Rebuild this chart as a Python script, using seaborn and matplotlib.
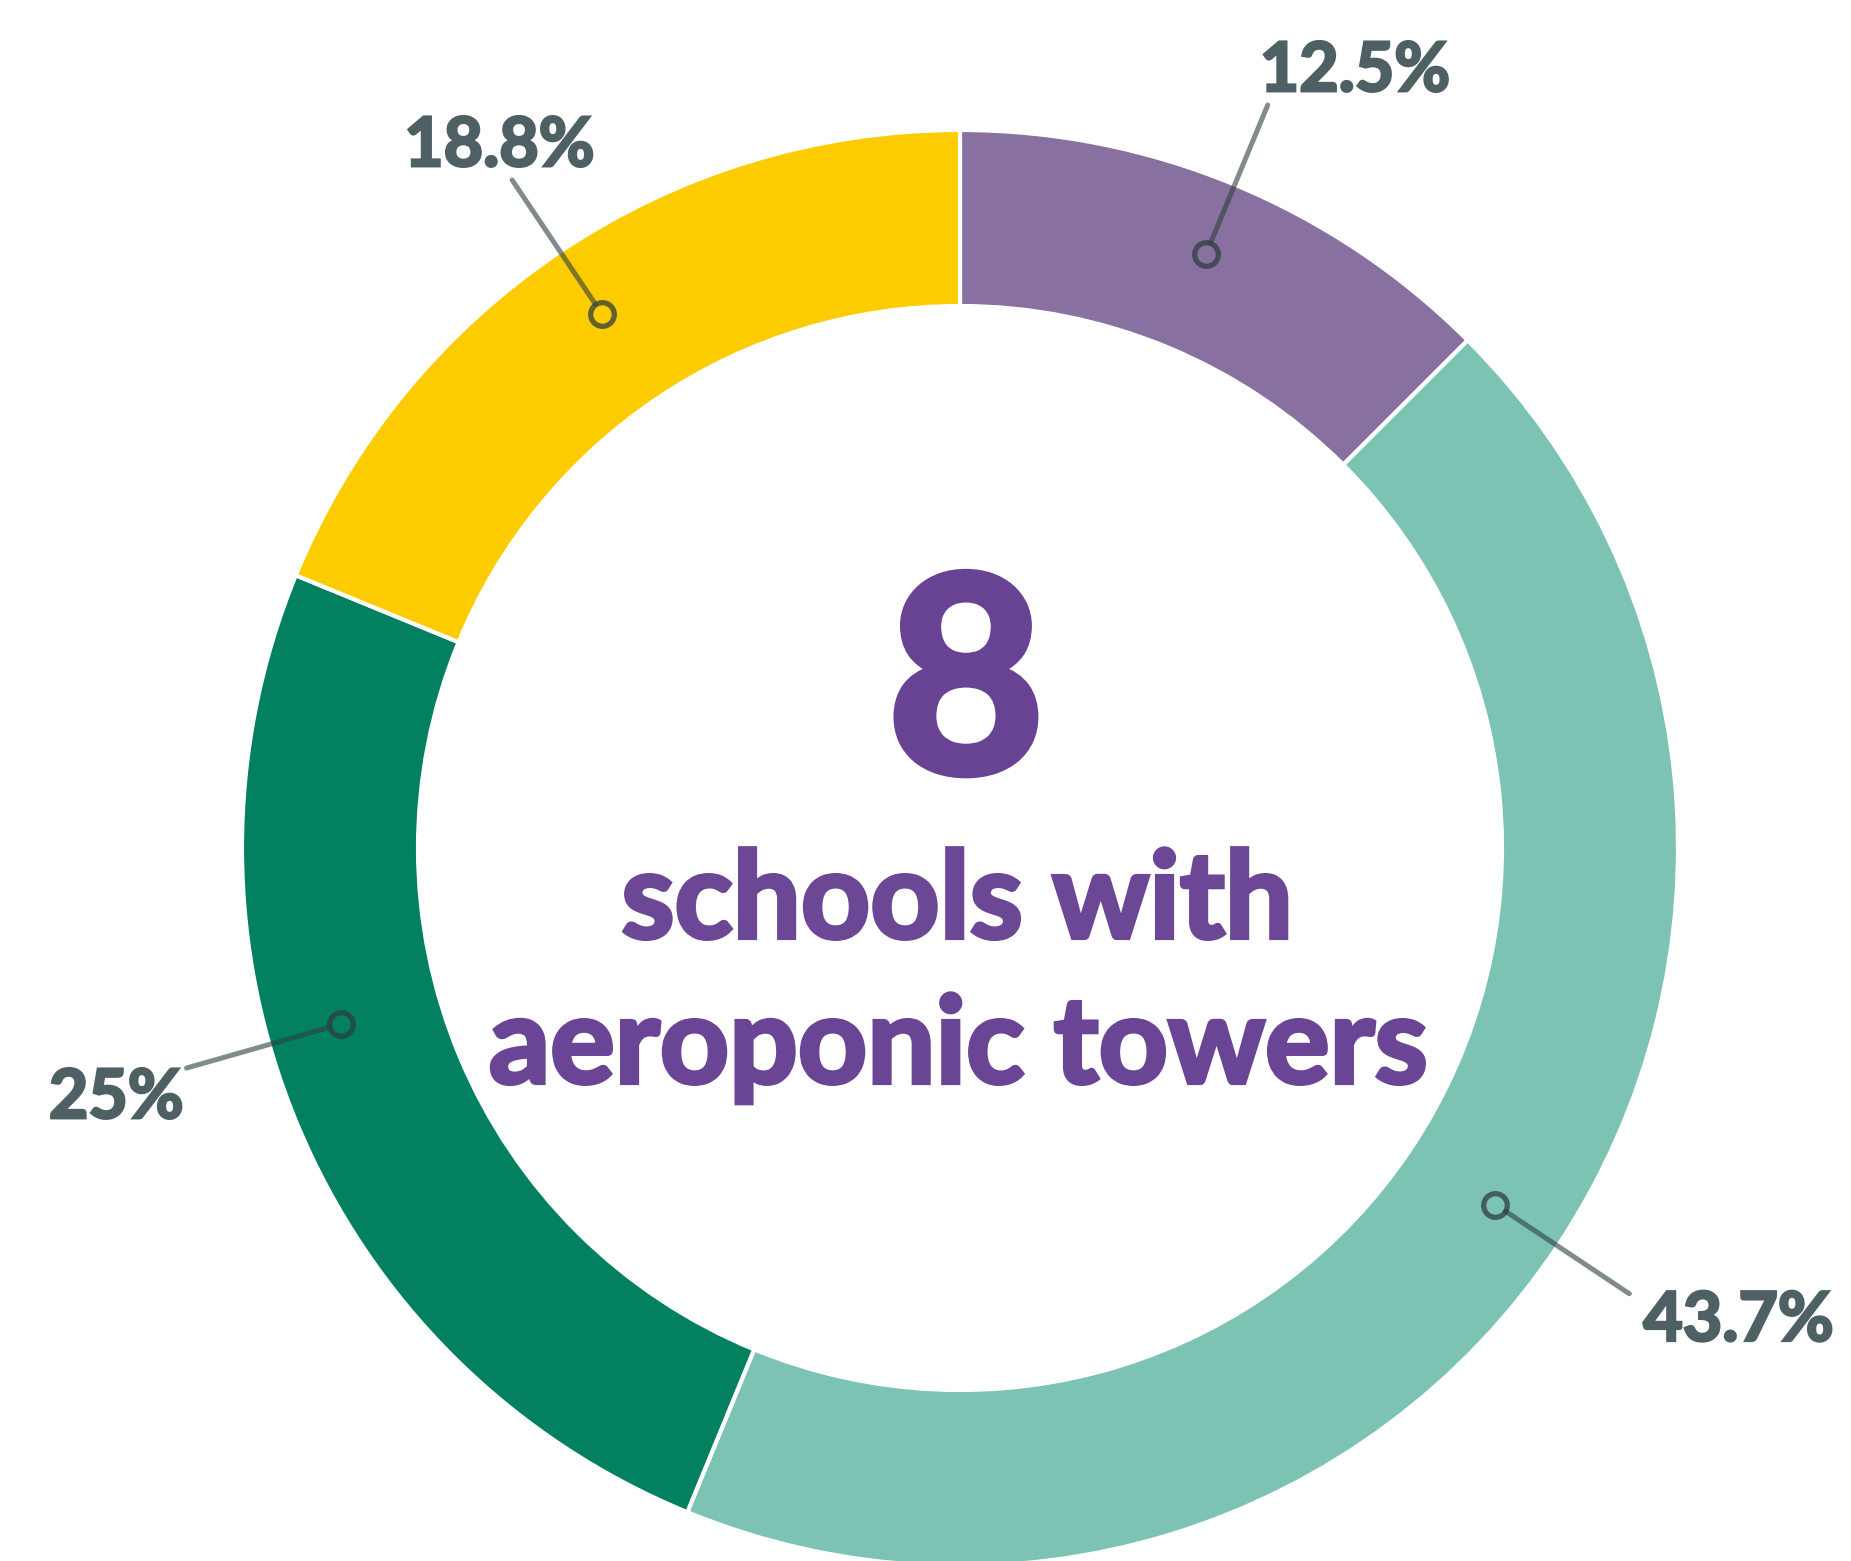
import numpy as np
import matplotlib
matplotlib.use("Agg")
import matplotlib.pyplot as plt
import matplotlib.patheffects as pe
import seaborn as sns

# Share of the 8 schools, clockwise from 12 o'clock
shares = [12.5, 43.7, 25.0, 18.8]
share_labels = ["12.5%", "43.7%", "25%", "18.8%"]
segment_colors = ["#8870A0", "#7DC3B3", "#02805F", "#FCCC00"]

center_value = "8"
center_lines = ["schools with", "aeroponic towers"]

sns.set_theme(style="white")
plt.rcParams["font.family"] = ["Lato", "DejaVu Sans"]

W, H = 1851, 1561
fig = plt.figure(figsize=(W / 100, H / 100), dpi=100)
ax = fig.add_axes([0, 0, 1, 1])

cx, cy = 960, 713
R = 718
ring = 176

ax.pie(shares, colors=segment_colors, startangle=90, counterclock=False,
       radius=R, center=(cx, cy),
       wedgeprops=dict(width=ring, edgecolor="white", linewidth=3))


def heavy(color, w):
    # thicken the glyphs a bit, Lato only ships up to bold here
    return [pe.withStroke(linewidth=w, foreground=color, joinstyle="miter",
                          capstyle="butt")]


# leader lines + labels
label_color = "#4E6064"
line_color = "#2E3E3E"
angle_nudge = [0, 0, -6.8, 0]
text_offsets = [(-8, 14, "left"), (14, -47, "left"), (-3, -50, "right"), (-13, 14, "center")]

cum = np.cumsum([0] + shares[:-1])
for i, (s, lab) in enumerate(zip(shares, share_labels)):
    mid_cw = (cum[i] + s / 2) / 100 * 360
    ang = np.deg2rad(90 - mid_cw + angle_nudge[i])
    r0, r1 = 0.896 * R, 1.12 * R
    x0, y0 = cx + r0 * np.cos(ang), cy + r0 * np.sin(ang)
    xs, ys = cx + (r0 + 12) * np.cos(ang), cy + (r0 + 12) * np.sin(ang)
    x1, y1 = cx + r1 * np.cos(ang), cy + r1 * np.sin(ang)
    ax.plot([xs, x1], [ys, y1], color=line_color, alpha=0.6, lw=3.6,
            solid_capstyle="round", zorder=3)
    ax.plot(x0, y0, marker="o", ms=17, mfc="none", mec=line_color,
            mew=3.8, alpha=0.75, zorder=4)
    dx, dy, ha = text_offsets[i]
    ax.text(x1 + dx, y1 + dy, lab, ha=ha, va="baseline", fontsize=49,
            fontweight="bold", color=label_color, zorder=5,
            path_effects=heavy(label_color, 2))

# centre text
ax.text(cx + 6, 789, center_value, ha="center", va="baseline", fontsize=196,
        fontweight="bold", color="#684394", path_effects=heavy("#684394", 6))
ax.text(cx - 3, 623, center_lines[0], ha="center", va="baseline", fontsize=87,
        fontweight="bold", color="#6C4796", path_effects=heavy("#6C4796", 3))
ax.text(cx - 2, 478, center_lines[1], ha="center", va="baseline", fontsize=87,
        fontweight="bold", color="#6A4596", path_effects=heavy("#6A4596", 3))

ax.set_xlim(0, W)
ax.set_ylim(0, H)
ax.set_aspect("equal")
ax.axis("off")

fig.savefig("out.png", dpi=100, facecolor="white")
